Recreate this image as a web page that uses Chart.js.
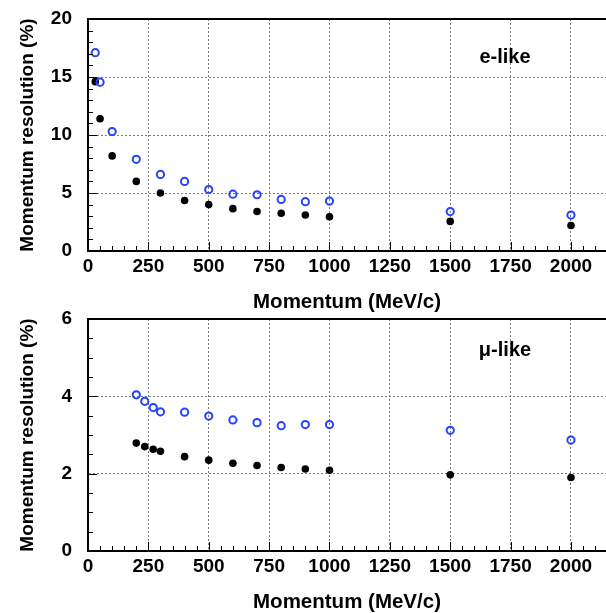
<!DOCTYPE html>
<html>
<head>
<meta charset="utf-8">
<script src="https://cdn.jsdelivr.net/npm/chart.js@4/dist/chart.umd.min.js"></script>
<style>
  body { margin: 0; background: #fff; }
  #wrap { position: relative; width: 606px; height: 613px; overflow: hidden; }
  canvas { position: absolute; left: 0; }
</style>
</head>
<body>
<div id="wrap">
  <canvas id="eChart" width="606" height="313" style="top:0"></canvas>
  <canvas id="muChart" width="606" height="313" style="top:300px"></canvas>
</div>
<script>
// Datos
const eMomentum = [30, 50, 100, 200, 300, 400, 500, 600, 700, 800, 900, 1000, 1500, 2000];
const eBlack = [14.6, 11.4, 8.2, 6.0, 5.0, 4.35, 4.0, 3.65, 3.4, 3.25, 3.1, 2.95, 2.55, 2.2];
const eBlue = [17.1, 14.55, 10.3, 7.9, 6.6, 6.0, 5.3, 4.9, 4.85, 4.45, 4.25, 4.3, 3.4, 3.1];

const muMomentum = [200, 235, 270, 300, 400, 500, 600, 700, 800, 900, 1000, 1500, 2000];
const muBlack = [2.79, 2.70, 2.63, 2.58, 2.44, 2.35, 2.27, 2.21, 2.16, 2.12, 2.09, 1.97, 1.90];
const muBlue = [4.04, 3.87, 3.71, 3.60, 3.59, 3.49, 3.39, 3.32, 3.24, 3.27, 3.27, 3.12, 2.87];

const xTickLabels = [0, 250, 500, 750, 1000, 1250, 1500, 1750, 2000];
const eYTicks = [0, 5, 10, 15, 20];
const muYTicks = [0, 2, 4, 6];

const FONT = "'Liberation Sans', Arial, sans-serif";

function toPoints(xs, ys) {
  return xs.map((x, i) => ({ x: x, y: ys[i] }));
}

// Marcas de los ejes (mayores y menores) hacia dentro, borde superior y etiqueta
const framePlugin = {
  id: 'frame',
  afterDraw(chart, args, opts) {
    const { ctx, chartArea: a, scales } = chart;
    const x = scales.x, y = scales.y;
    ctx.save();
    ctx.strokeStyle = '#000';
    ctx.lineWidth = 1;
    ctx.beginPath();
    for (let v = 0; v <= x.max; v += 50) {
      const px = Math.round(x.getPixelForValue(v)) + 0.5;
      const len = v % 250 === 0 ? 9 : 5;
      ctx.moveTo(px, a.bottom);
      ctx.lineTo(px, a.bottom - len);
    }
    for (let v = 0; v <= y.max + 1e-9; v += opts.minor) {
      const py = Math.round(y.getPixelForValue(v)) + 0.5;
      const major = Math.abs(v / opts.major - Math.round(v / opts.major)) < 1e-6;
      ctx.moveTo(a.left, py);
      ctx.lineTo(a.left + (major ? 9 : 5), py);
    }
    ctx.stroke();
    // borde superior
    ctx.lineWidth = 2;
    ctx.beginPath();
    ctx.moveTo(a.left - 1, a.top);
    ctx.lineTo(a.right, a.top);
    ctx.stroke();
    // texto
    ctx.fillStyle = '#000';
    ctx.font = 'bold 20px ' + FONT;
    ctx.textAlign = 'center';
    ctx.textBaseline = 'middle';
    ctx.fillText(opts.label, opts.lx, opts.ly);
    ctx.restore();
  }
};

function makeChart(id, xs, black, blue, yTicks, minor, label, ly) {
  const yMax = yTicks[yTicks.length - 1];
  return new Chart(document.getElementById(id), {
    type: 'scatter',
    data: {
      datasets: [
        {
          label: 'open',
          data: toPoints(xs, blue),
          pointRadius: 3.6,
          pointBorderWidth: 2,
          pointBorderColor: '#2443ff',
          pointBackgroundColor: 'rgba(255,255,255,0)',
          pointHoverRadius: 3.6
        },
        {
          label: 'filled',
          data: toPoints(xs, black),
          pointRadius: 3.8,
          pointBorderWidth: 0,
          pointBackgroundColor: '#000',
          pointHoverRadius: 3.8
        }
      ]
    },
    options: {
      responsive: false,
      animation: false,
      layout: { autoPadding: false, padding: { top: 19, left: 0, right: 0, bottom: 0 } },
      plugins: {
        legend: { display: false },
        tooltip: { enabled: false },
        frame: { label: label, lx: 505, ly: ly, minor: minor, major: yTicks[1] }
      },
      scales: {
        x: {
          type: 'linear',
          min: 0,
          max: 2145,
          afterBuildTicks: s => { s.ticks = xTickLabels.map(v => ({ value: v })); },
          afterFit: s => { s.height = 62; s.paddingRight = 0; s.paddingLeft = 0; },
          ticks: {
            color: '#000',
            padding: 4,
            maxRotation: 0,
            callback: v => String(v),
            font: { family: FONT, size: 19, weight: 'bold' }
          },
          grid: { color: '#7a7a7a', lineWidth: 1, drawTicks: false },
          border: { display: true, color: '#000', width: 2, dash: [2, 2] },
          title: {
            display: true,
            text: 'Momentum (MeV/c)',
            color: '#000',
            padding: { top: 0, bottom: 0 },
            font: { family: FONT, size: 20.5, weight: 'bold', lineHeight: 1 }
          }
        },
        y: {
          type: 'linear',
          min: 0,
          max: yMax,
          afterBuildTicks: s => { s.ticks = yTicks.map(v => ({ value: v })); },
          afterFit: s => { s.width = 88; s.paddingTop = 0; s.paddingBottom = 0; },
          ticks: {
            color: '#000',
            padding: 16,
            callback: v => String(v),
            font: { family: FONT, size: 19, weight: 'bold' }
          },
          grid: { color: '#7a7a7a', lineWidth: 1, drawTicks: false },
          border: { display: true, color: '#000', width: 2, dash: [2, 2] },
          title: {
            display: true,
            text: 'Momentum resolution (%)',
            color: '#000',
            padding: { top: 18, bottom: 0 },
            font: { family: FONT, size: 19, weight: 'bold', lineHeight: 1 }
          }
        }
      }
    },
    plugins: [framePlugin]
  });
}

makeChart('eChart', eMomentum, eBlack, eBlue, eYTicks, 1, 'e-like', 57);
makeChart('muChart', muMomentum, muBlack, muBlue, muYTicks, 0.5, 'μ-like', 50);
</script>
</body>
</html>
